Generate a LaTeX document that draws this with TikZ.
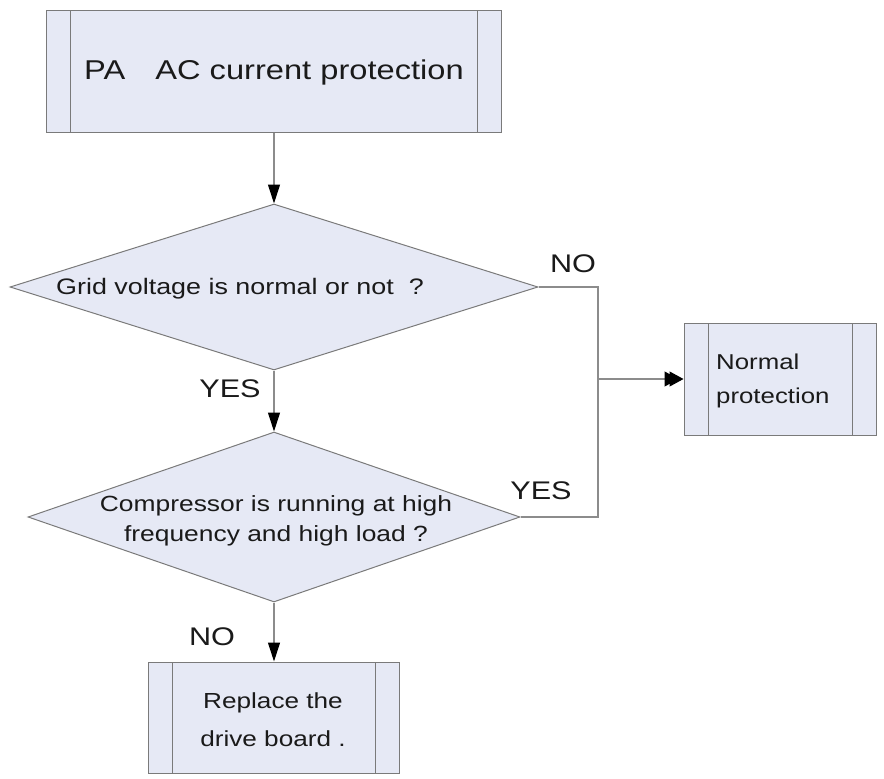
\documentclass[tikz,border=0pt]{standalone}
\usepackage{fontspec}
\setmainfont{Liberation Sans}[FakeStretch=1.2]
\usetikzlibrary{shapes.geometric,arrows.meta}
\definecolor{boxfill}{HTML}{E6E9F5}
\definecolor{boxline}{HTML}{7A7A7A}
\definecolor{conn}{HTML}{8C8C8C}
\definecolor{txt}{HTML}{1A1A1A}
\tikzset{
  procbox/.style={draw=boxline, line width=1pt, fill=boxfill, inner sep=0pt,
    path picture={
      \draw[boxline, line width=1pt] ([xshift=24pt]path picture bounding box.north west) -- ([xshift=24pt]path picture bounding box.south west);
      \draw[boxline, line width=1pt] ([xshift=-24pt]path picture bounding box.north east) -- ([xshift=-24pt]path picture bounding box.south east);
    }},
  decision/.style={diamond, draw=boxline, line width=1pt, fill=boxfill, inner sep=0pt, aspect=1},
  tx/.style={text=txt, inner sep=0pt, font=\fontsize{22}{30}\selectfont},
  lab/.style={text=txt, inner sep=0pt, font=\fontsize{25.5}{28}\selectfont},
  conline/.style={draw=conn, line width=1.1pt},
  arr/.style={conline, -{Triangle[length=19pt,width=12pt,fill=black,color=black]}},
  arrdbl/.style={conline, -{Triangle[length=14pt,width=15pt,fill=black,color=black,sep=-9pt]Triangle[length=14pt,width=15pt,fill=black,color=black]}}
}
\begin{document}
\begin{tikzpicture}[x=1pt,y=-1pt]
\useasboundingbox (0,0) rectangle (884,779);
% boxes
\node[procbox, minimum width=455pt, minimum height=122pt] (top) at (274,71) {};
\node[tx, font=\fontsize{27.2}{30}\selectfont] (toptext) at (274,72) {PA\hspace{30pt}AC current protection};
\node[decision, minimum width=528pt, minimum height=166pt] (d1) at (274,287) {};
\node[tx, font=\fontsize{22.4}{30}\selectfont] (d1text) at (240,289) {Grid voltage is normal or not\hspace{15pt}?};
\node[decision, minimum width=492pt, minimum height=170pt] (d2) at (274,517) {};
\node[tx, align=center, font=\fontsize{22}{30}\selectfont] (d2text) at (276,521) {Compressor is running at high\\frequency and high load ?};
\node[procbox, minimum width=192pt, minimum height=112pt] (np) at (780,379) {};
\node[tx, align=left, anchor=west, font=\fontsize{21.5}{34}\selectfont] (nptext) at (716,381) {Normal\\protection};
\node[procbox, minimum width=251pt, minimum height=111pt] (rb) at (274,717.5) {};
\node[tx, align=center, font=\fontsize{21.8}{38}\selectfont] (rbtext) at (273,720) {Replace the\\drive board .};
% labels
\node[lab] (no1) at (573,264) {NO};
\node[lab] (yes1) at (230,389) {YES};
\node[lab] (yes2) at (541,491) {YES};
\node[lab] (no2) at (212,637) {NO};
% connectors
\coordinate (j) at (598,379);
\draw[arr] (top.south) -- (d1.north);
\draw[arr] (d1.south) -- (d2.north);
\draw[arr] (d2.south) -- (rb.north);
\draw[conline] (d1.east) -| (j);
\draw[conline] (d2.east) -| (j);
\draw[arrdbl] (j) -- (np.west);
\end{tikzpicture}
\end{document}
